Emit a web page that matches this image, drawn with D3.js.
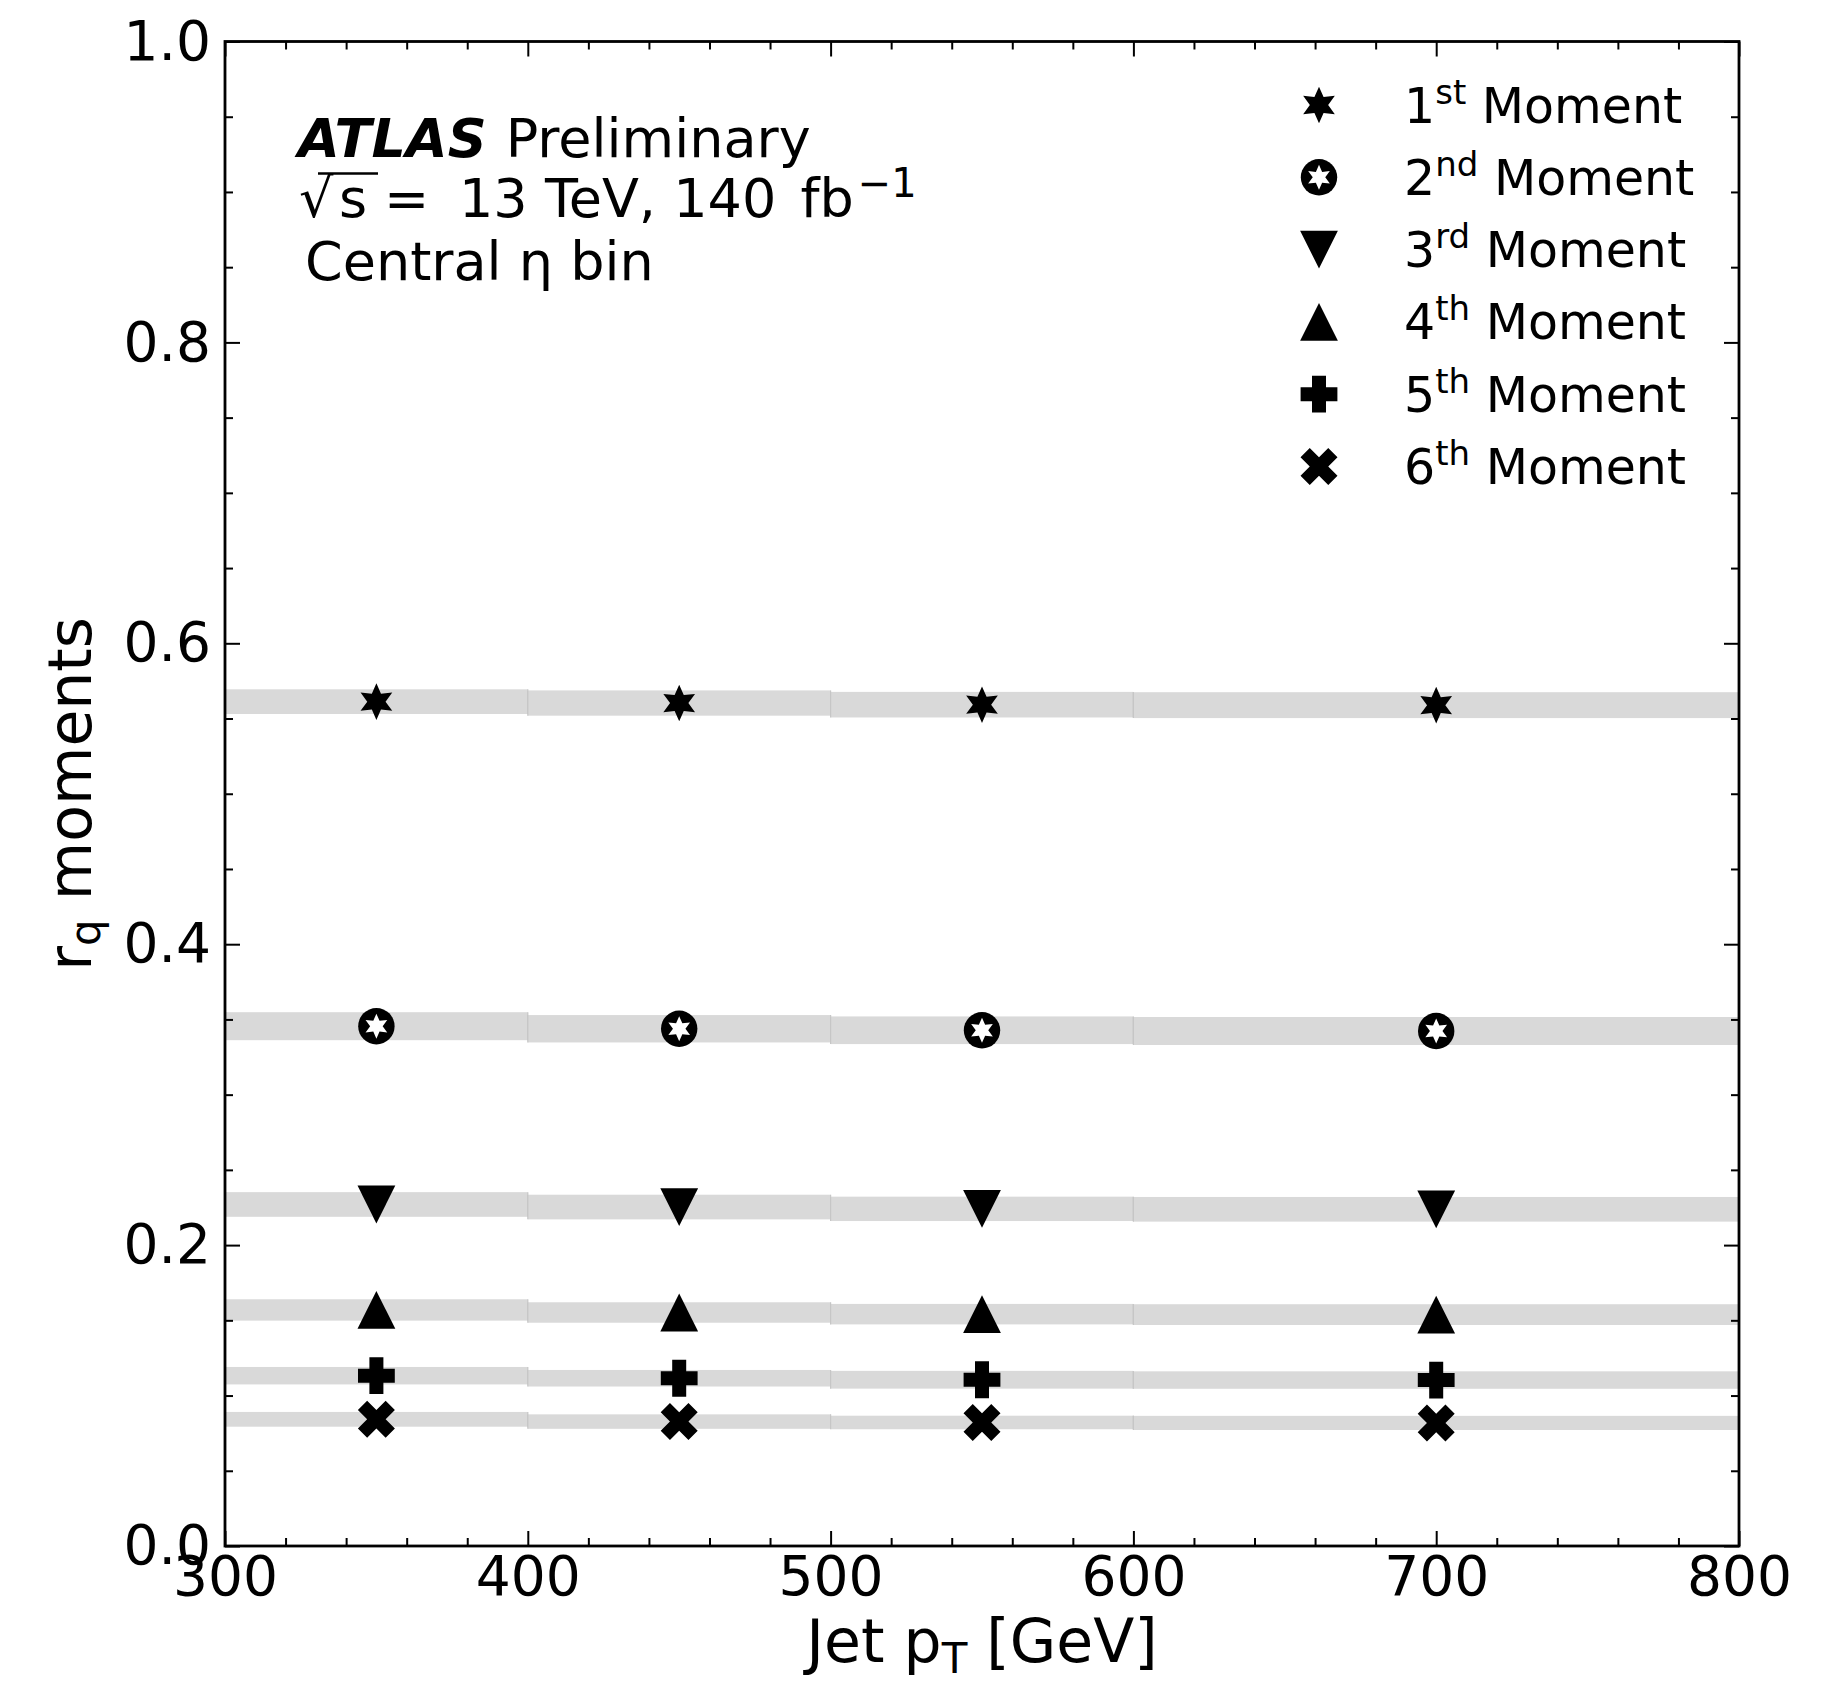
<!DOCTYPE html>
<html>
<head>
<meta charset="utf-8">
<script src="https://cdn.jsdelivr.net/npm/d3@7"></script>
<style>
  html, body { margin: 0; padding: 0; background: #ffffff; }
  svg { display: block; }
  text { font-family: "DejaVu Sans", sans-serif; fill: #000; }
</style>
</head>
<body>
<svg id="chart" width="1844" height="1681"></svg>
<script>
// Jet pT binning (GeV)
const binEdges = [300, 400, 500, 600, 800];
const binCenters = [350, 450, 550, 700];

// r_q moments per pT bin, with their uncertainty half-widths
const moment1 = [0.5612, 0.5603, 0.5592, 0.5589];
const moment1Err = [0.0082, 0.0084, 0.0085, 0.0086];
const moment2 = [0.3455, 0.3438, 0.3428, 0.3423];
const moment2Err = [0.0093, 0.0091, 0.0092, 0.0093];
const moment3 = [0.2270, 0.2253, 0.2241, 0.2238];
const moment3Err = [0.0082, 0.0082, 0.0081, 0.0082];
const moment4 = [0.1569, 0.1552, 0.1541, 0.1538];
const moment4Err = [0.0071, 0.0068, 0.0068, 0.0069];
const moment5 = [0.1132, 0.1115, 0.1105, 0.1103];
const moment5Err = [0.0058, 0.0055, 0.0059, 0.0058];
const moment6 = [0.0842, 0.0827, 0.0821, 0.0818];
const moment6Err = [0.0049, 0.0048, 0.0045, 0.0047];

// legend labels: number + ordinal suffix
const legendNumbers = ["1", "2", "3", "4", "5", "6"];
const legendSuffixes = ["st", "nd", "rd", "th", "th", "th"];
const markerShapes = ["star", "circlestar", "tridown", "triup", "plus", "cross"];

// axis ticks
const xMajorTicks = [300, 400, 500, 600, 700, 800];
const xMinorTicks = d3.range(300, 801, 20).filter(v => v % 100 !== 0);
const yMajorTicks = [0, 0.2, 0.4, 0.6, 0.8, 1.0];
const yMinorTicks = d3.range(0, 1.0001, 0.05).filter(v => Math.abs(v * 5 - Math.round(v * 5)) > 1e-6);

const series = [
  { vals: moment1, errs: moment1Err },
  { vals: moment2, errs: moment2Err },
  { vals: moment3, errs: moment3Err },
  { vals: moment4, errs: moment4Err },
  { vals: moment5, errs: moment5Err },
  { vals: moment6, errs: moment6Err }
];

const plot = { left: 225, right: 1739, top: 41.5, bottom: 1546 };
const x = d3.scaleLinear().domain([300, 800]).range([plot.left, plot.right]);
const y = d3.scaleLinear().domain([0, 1]).range([plot.bottom, plot.top]);

const svg = d3.select("#chart");

// ---- marker path builders (centered on 0,0) ----
function starPts(R, ri) {
  const pts = [];
  for (let k = 0; k < 12; k++) {
    const a = (-90 + k * 30) * Math.PI / 180;
    const r = k % 2 === 0 ? R : ri;
    pts.push([r * Math.cos(a), r * Math.sin(a)]);
  }
  return pts;
}
const poly = pts => "M" + pts.map(p => p[0].toFixed(2) + "," + p[1].toFixed(2)).join("L") + "Z";

function crossPts(a) {
  const e = 0.5, d = 0.5;
  const u = [[0, -d], [1 - e, -1], [1, -(1 - e)], [d, 0], [1, 1 - e], [1 - e, 1],
             [0, d], [-(1 - e), 1], [-1, 1 - e], [-d, 0], [-1, -(1 - e)], [-(1 - e), -1]];
  return u.map(p => [p[0] * a, p[1] * a]);
}
function plusPts(a, w) {
  return [[-w, -a], [w, -a], [w, -w], [a, -w], [a, w], [w, w], [w, a], [-w, a],
          [-w, w], [-a, w], [-a, -w], [-w, -w]];
}

function drawMarker(g, shape) {
  switch (shape) {
    case "star":
      g.append("path").attr("d", poly(starPts(18.3, 9.15))).attr("fill", "#000");
      break;
    case "circlestar":
      g.append("circle").attr("r", 18.2).attr("fill", "#000");
      g.append("path").attr("d", poly(starPts(12.5, 6.25))).attr("fill", "#fff");
      break;
    case "tridown":
      g.append("path").attr("d", poly([[0, 18.9], [-18.9, -18.9], [18.9, -18.9]])).attr("fill", "#000");
      break;
    case "triup":
      g.append("path").attr("d", poly([[0, -18.9], [18.9, 18.9], [-18.9, 18.9]])).attr("fill", "#000");
      break;
    case "plus":
      g.append("path").attr("d", poly(plusPts(18.4, 7))).attr("fill", "#000");
      break;
    case "cross":
      g.append("path").attr("d", poly(crossPts(18.5))).attr("fill", "#000");
      break;
  }
}

// ---- uncertainty bands ----
const bandLayer = svg.append("g");
series.forEach(s => {
  s.vals.forEach((v, i) => {
    const x0 = x(binEdges[i]), x1 = x(binEdges[i + 1]);
    const yTop = y(v + s.errs[i]), yBot = y(v - s.errs[i]);
    bandLayer.append("rect")
      .attr("x", x0).attr("y", yTop)
      .attr("width", x1 - x0).attr("height", yBot - yTop)
      .attr("fill", "#d9d9d9");
    [x0, x1].forEach(xe => {
      bandLayer.append("line")
        .attr("x1", xe).attr("x2", xe).attr("y1", yTop).attr("y2", yBot)
        .attr("stroke", "#c6c6c6").attr("stroke-width", 1.2);
    });
  });
});

// ---- markers ----
const markerLayer = svg.append("g");
series.forEach((s, si) => {
  s.vals.forEach((v, i) => {
    const g = markerLayer.append("g")
      .attr("transform", `translate(${x(binCenters[i])},${y(v)})`);
    drawMarker(g, markerShapes[si]);
  });
});

// ---- axes (inward ticks on all four sides) ----
function styleAxis(g) {
  g.select(".domain").remove();
  g.selectAll(".tick line").attr("stroke", "#000").attr("stroke-width", 2);
  g.attr("font-family", "DejaVu Sans").attr("font-size", 55);
  g.selectAll(".tick text").attr("fill", "#000");
}

svg.append("g").attr("transform", `translate(0,${plot.bottom})`)
  .call(d3.axisBottom(x).tickValues(xMajorTicks).tickSizeInner(-15).tickSizeOuter(0)
    .tickPadding(10).tickFormat(d3.format("d")))
  .call(styleAxis);
svg.append("g").attr("transform", `translate(0,${plot.bottom})`)
  .call(d3.axisBottom(x).tickValues(xMinorTicks).tickSizeInner(-8).tickSizeOuter(0).tickFormat(""))
  .call(styleAxis);
svg.append("g").attr("transform", `translate(0,${plot.top})`)
  .call(d3.axisTop(x).tickValues(xMajorTicks).tickSizeInner(-15).tickSizeOuter(0).tickFormat(""))
  .call(styleAxis);
svg.append("g").attr("transform", `translate(0,${plot.top})`)
  .call(d3.axisTop(x).tickValues(xMinorTicks).tickSizeInner(-8).tickSizeOuter(0).tickFormat(""))
  .call(styleAxis);

svg.append("g").attr("transform", `translate(${plot.left},0)`)
  .call(d3.axisLeft(y).tickValues(yMajorTicks).tickSizeInner(-15).tickSizeOuter(0)
    .tickPadding(14).tickFormat(d3.format(".1f")))
  .call(styleAxis);
svg.append("g").attr("transform", `translate(${plot.left},0)`)
  .call(d3.axisLeft(y).tickValues(yMinorTicks).tickSizeInner(-8).tickSizeOuter(0).tickFormat(""))
  .call(styleAxis);
svg.append("g").attr("transform", `translate(${plot.right},0)`)
  .call(d3.axisRight(y).tickValues(yMajorTicks).tickSizeInner(-15).tickSizeOuter(0).tickFormat(""))
  .call(styleAxis);
svg.append("g").attr("transform", `translate(${plot.right},0)`)
  .call(d3.axisRight(y).tickValues(yMinorTicks).tickSizeInner(-8).tickSizeOuter(0).tickFormat(""))
  .call(styleAxis);

// frame
svg.append("rect")
  .attr("x", plot.left).attr("y", plot.top)
  .attr("width", plot.right - plot.left).attr("height", plot.bottom - plot.top)
  .attr("fill", "none").attr("stroke", "#000").attr("stroke-width", 2.8);

// ---- axis titles ----
const xt = svg.append("text")
  .attr("x", (plot.left + plot.right) / 2).attr("y", 1662)
  .attr("text-anchor", "middle").attr("font-size", 60);
xt.append("tspan").text("Jet p");
xt.append("tspan").attr("font-size", 42).attr("dy", 11).text("T");
xt.append("tspan").attr("dy", -11).text(" [GeV]");

const yt = svg.append("text")
  .attr("transform", `translate(91,${(plot.top + plot.bottom) / 2}) rotate(-90)`)
  .attr("text-anchor", "middle").attr("font-size", 60);
yt.append("tspan").text("r");
yt.append("tspan").attr("font-size", 42).attr("dy", 9).text("q");
yt.append("tspan").attr("dy", -9).text(" moments");

// ---- ATLAS label block ----
const l1 = svg.append("text").attr("x", 298).attr("y", 157).attr("font-size", 54);
l1.append("tspan").attr("font-weight", "bold").attr("font-style", "italic").text("ATLAS");
l1.append("tspan").attr("dx", 2).text(" Preliminary");

svg.append("text").attr("x", 299).attr("y", 217).attr("font-size", 54).text("\u221A");
svg.append("text").attr("x", 339).attr("y", 217).attr("font-size", 54).text("s");
svg.append("line").attr("x1", 318).attr("x2", 378).attr("y1", 173.5).attr("y2", 173.5)
  .attr("stroke", "#000").attr("stroke-width", 2.6);
svg.append("text").attr("x", 384).attr("y", 217).attr("font-size", 54).text("=");
const l2 = svg.append("text").attr("x", 459).attr("y", 217).attr("font-size", 54);
l2.append("tspan").text("13 TeV, 140");
l2.append("tspan").attr("dx", 7).text(" fb");
l2.append("tspan").attr("dx", 4).attr("font-size", 40).attr("dy", -20).text("\u22121");

svg.append("text").attr("x", 305).attr("y", 280).attr("font-size", 54).text("Central \u03B7 bin");

// ---- legend ----
const legend = svg.append("g");
markerShapes.forEach((shape, i) => {
  const cy = 105 + i * 72.3;
  const g = legend.append("g").attr("transform", `translate(1319,${cy})`);
  drawMarker(g, shape);
  const t = legend.append("text").attr("x", 1404).attr("y", cy + 17.5).attr("font-size", 49);
  t.append("tspan").text(legendNumbers[i]);
  t.append("tspan").attr("font-size", 34).attr("dy", -19).text(legendSuffixes[i]);
  t.append("tspan").attr("dy", 19).text(" Moment");
});
</script>
</body>
</html>
